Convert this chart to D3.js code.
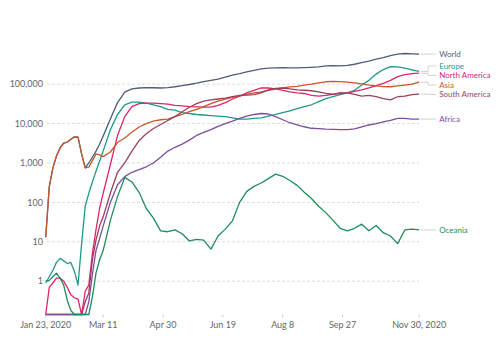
<!DOCTYPE html>
<html>
<head>
<meta charset="utf-8">
<script src="https://cdn.jsdelivr.net/npm/d3@7"></script>
<style>
body { margin: 0; background: #fff; }
svg { font-family: Lato, "Noto Sans", sans-serif; }
</style>
</head>
<body>
<svg id="chart" width="500" height="353"></svg>
<script>
// sample dates: every 3 days until Mar 11, then every 6 days
var dates = ["2020-01-23","2020-01-26","2020-01-29","2020-02-01","2020-02-04","2020-02-07","2020-02-10","2020-02-13",
    "2020-02-16","2020-02-19","2020-02-22","2020-02-25","2020-02-28","2020-03-02","2020-03-05","2020-03-08","2020-03-11",
    "2020-03-17","2020-03-23","2020-03-29","2020-04-04","2020-04-10","2020-04-16","2020-04-22","2020-04-28",
    "2020-05-04","2020-05-10","2020-05-16","2020-05-22","2020-05-28","2020-06-03","2020-06-09","2020-06-15",
    "2020-06-21","2020-06-27","2020-07-03","2020-07-09","2020-07-15","2020-07-21","2020-07-27","2020-08-02",
    "2020-08-08","2020-08-14","2020-08-20","2020-08-26","2020-09-01","2020-09-07","2020-09-13","2020-09-19",
    "2020-09-25","2020-10-01","2020-10-07","2020-10-13","2020-10-19","2020-10-25","2020-10-31","2020-11-06",
    "2020-11-12","2020-11-18","2020-11-24","2020-11-30"];

var world = [13,250,750,1500,2400,3200,3400,4000,4600,4500,1700,750,1000,1400,2000,3000,4800,
    13000,34000,63000,76000,80000,82000,81000,80000,82000,86000,92000,98000,106000,116000,125000,135000,
    150000,170000,185000,205000,225000,245000,255000,260000,262000,260000,258000,262000,268000,275000,
    290000,295000,292000,300000,320000,350000,385000,430000,470000,530000,580000,600000,590000,580000];

var europe = [0.9,1.3,1.9,3.0,3.8,3.3,2.8,3.0,1.8,0.8,9,80,170,330,620,1100,2000,
    7000,17000,30000,35000,35000,33000,30000,27000,23000,22000,19000,18000,17000,16500,16000,15500,
    15000,14000,13000,13000,13500,14000,15500,17000,19000,21000,24000,27000,30000,36000,
    43000,48000,54000,60000,70000,95000,125000,180000,235000,280000,275000,255000,232000,210000];

var northAmerica = [0,0.7,0.9,1.2,1.2,1.0,0.7,0.45,0.38,0.35,0,0.55,0.8,5,20,70,170,
    900,5000,15000,27000,32000,33000,33000,32000,31000,29000,28000,27000,26500,26000,26000,29000,
    34000,42000,50000,60000,70000,80000,80000,76000,70000,64000,60000,58000,52000,50000,
    52000,55000,58000,60000,66000,72000,80000,92000,105000,125000,155000,175000,185000,190000];

var asia = [13,250,750,1500,2400,3200,3400,4000,4600,4500,1700,750,780,1150,1700,1600,1450,
    1900,3300,4300,6000,8200,10000,11500,12500,13000,15000,17000,20000,23000,27000,32000,37000,
    42000,46000,50000,55000,60000,64000,70000,75000,80000,85000,88000,94000,100000,108000,
    115000,118000,116000,112000,108000,102000,95000,90000,87000,86000,90000,95000,100000,112000];

var southAmerica = [0,0,0,0,0,0,0,0,0,0,0,0.3,0.5,3.5,11,25,43,
    170,580,1000,2000,3700,5500,7500,9500,12000,15000,20000,26000,32000,37000,40000,42000,
    44000,48000,52000,53000,54000,60000,72000,78000,80000,76000,72000,70000,68000,64000,
    58000,56000,60000,60000,55000,50000,52000,48000,43000,40000,48000,50000,54000,56000];

var africa = [0,0,0,0,0,0,0,0,0,0,0,0,0.3,1.5,6,12,25,
    100,280,450,580,680,800,1000,1400,2000,2500,3000,3800,5000,6000,7000,8500,
    10000,11500,13500,15500,17000,18000,17500,15000,12500,10500,9300,8300,7600,7400,
    7200,7100,7000,7000,7300,8200,9200,10000,11000,12000,13500,13500,13000,13000];

var oceania = [1.0,1.05,1.3,1.6,1.2,0.8,0.33,0.18,0,0,0,0,0,0.4,1.6,3.5,6,
    35,140,430,330,180,70,40,19,18,20,16,10.5,11.5,11,6.5,14,
    21,34,100,190,255,310,400,520,460,360,270,180,125,80,
    55,35,22,19,22,28,19,26,17,14,9,20,21,20];

var seriesNames = ["World","Europe","North America","Asia","South America","Africa","Oceania"];
var seriesValues = [world, europe, northAmerica, asia, southAmerica, africa, oceania];
var seriesColors = ["#505d78","#1f9a8a","#e0246c","#c5592d","#9b3f5d","#7a4fa0","#1d8e5a"];

var yTicks = [1, 10, 100, 1000, 10000, 100000];
var xTickDates = ["2020-01-23","2020-03-11","2020-04-30","2020-06-19","2020-08-08","2020-09-27","2020-11-30"];
var xTickLabels = ["Jan 23, 2020","Mar 11","Apr 30","Jun 19","Aug 8","Sep 27","Nov 30, 2020"];

var parse = d3.timeParse("%Y-%m-%d");
var minVal = 1/7;

var svg = d3.select("#chart");

var x = d3.scaleTime()
    .domain([parse(dates[0]), parse(dates[dates.length-1])])
    .range([45.7, 419.2]);

var y = d3.scaleLog()
    .domain([minVal, 600000])
    .range([314.5, 53.5])
    .clamp(true);

// grid + y labels
var grid = svg.append("g");
yTicks.forEach(function(t){
    grid.append("line")
        .attr("x1", 47).attr("x2", x.range()[1])
        .attr("y1", y(t)).attr("y2", y(t))
        .attr("stroke", "#dcdcdc")
        .attr("stroke-dasharray", "3,2");
    grid.append("text")
        .attr("x", 43).attr("y", y(t))
        .attr("dy", "0.35em")
        .attr("text-anchor", "end")
        .attr("fill", "#666")
        .style("font-size", "9px")
        .text(d3.format(",")(t));
});

// x ticks
xTickDates.forEach(function(d, i){
    var px = x(parse(d));
    grid.append("line")
        .attr("x1", px).attr("x2", px)
        .attr("y1", 314.5).attr("y2", 317.5)
        .attr("stroke", "#ccc");
    grid.append("text")
        .attr("x", px).attr("y", 327.5)
        .attr("text-anchor", "middle")
        .attr("fill", "#666")
        .style("font-size", "9px")
        .text(xTickLabels[i]);
});

var line = d3.line()
    .x(function(d){ return x(d.date); })
    .y(function(d){ return y(Math.max(d.value, minVal)); });

// lines
seriesValues.forEach(function(vals, s){
    var pts = vals.map(function(v, i){ return {date: parse(dates[i]), value: v}; });
    svg.append("path")
        .datum(pts)
        .attr("fill", "none")
        .attr("stroke", seriesColors[s])
        .attr("stroke-width", 1.3)
        .attr("stroke-linejoin", "round")
        .attr("d", line);
});

// end labels with simple collision relaxing
var labels = seriesNames.map(function(n, s){
    var last = seriesValues[s][seriesValues[s].length-1];
    var yy = y(Math.max(last, minVal));
    return {name: n, color: seriesColors[s], yEnd: yy, y: yy};
});
labels.sort(function(a, b){ return a.yEnd - b.yEnd; });
var gap = 9.5;
for (var it = 0; it < 300; it++) {
    for (var i = 0; i < labels.length - 1; i++) {
        var d = labels[i+1].y - labels[i].y;
        if (d < gap) {
            var push = (gap - d) / 2;
            labels[i].y -= push;
            labels[i+1].y += push;
        }
    }
}

var xEnd = x.range()[1];
labels.forEach(function(l){
    svg.append("path")
        .attr("fill", "none")
        .attr("stroke", "#c8c8c8")
        .attr("stroke-width", 0.8)
        .attr("d", "M" + (xEnd + 1.5) + "," + l.yEnd + "H" + (xEnd + 9) + "V" + l.y + "H" + (xEnd + 17));
    svg.append("text")
        .attr("x", xEnd + 20)
        .attr("y", l.y)
        .attr("dy", "0.35em")
        .attr("fill", l.color)
        .style("font-size", "8px")
        .text(l.name);
});
</script>
</body>
</html>
